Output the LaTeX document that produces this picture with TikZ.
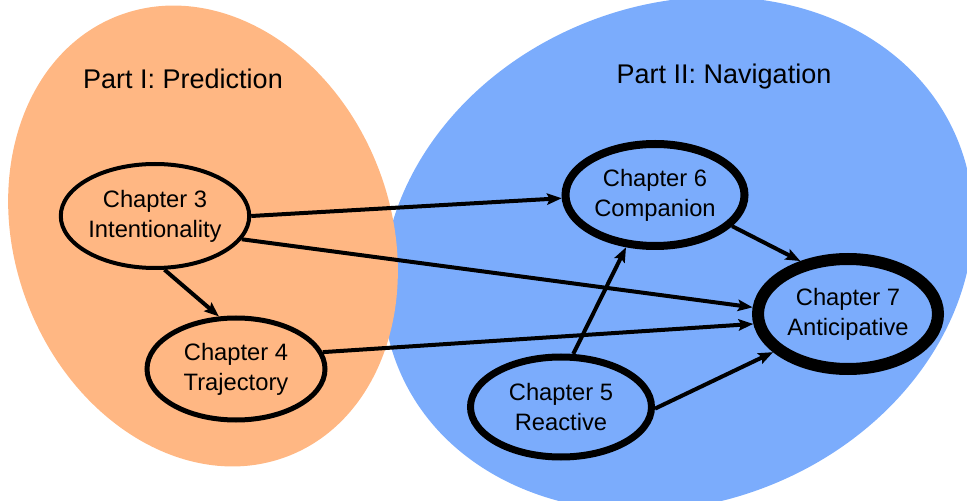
\documentclass[tikz,border=0pt]{standalone}
\usepackage{fontspec}
\setmainfont{Liberation Sans}
\usetikzlibrary{arrows.meta,shapes.geometric}
\definecolor{partone}{RGB}{255,183,131}
\definecolor{parttwo}{RGB}{123,172,252}
\begin{document}
\begin{tikzpicture}[x=0.75pt,y=0.75pt,
  chap/.style={ellipse, draw=black, inner sep=0pt, align=center,
    font=\fontsize{17.8}{22.5}\selectfont},
  parttitle/.style={font=\fontsize{20.25}{24}\selectfont},
  link/.style={line width=3pt, -{Stealth[length=11pt,width=8.5pt,inset=2pt]}}
]
\clip (0,0) rectangle (967,500);
% background regions
\fill[parttwo] (678,246) ellipse[x radius=226.5pt, y radius=186.75pt, rotate=22];
\fill[partone] (203,264) ellipse[x radius=141pt, y radius=177pt, rotate=21];
% titles
\node[parttitle] (p1) at (183,421) {Part I: Prediction};
\node[parttitle] (p2) at (724,423) {Part II: Navigation};
% chapters
\node[chap, line width=3pt, minimum width=135.75pt, minimum height=78pt] (ch3) at (155,284) {Chapter 3\\Intentionality};
\node[chap, line width=3.75pt, minimum width=133.5pt, minimum height=76.5pt] (ch4) at (236,131) {Chapter 4\\Trajectory};
\node[chap, line width=6pt, minimum width=134.25pt, minimum height=76.5pt] (ch6) at (655,305) {Chapter 6\\Companion};
\node[chap, line width=5.25pt, minimum width=135.75pt, minimum height=75pt] (ch5) at (561,93) {Chapter 5\\Reactive};
\node[chap, line width=9pt, minimum width=135pt, minimum height=82.5pt] (ch7) at (848,186) {Chapter 7\\Anticipative};
% connectors
\draw[link] (ch3.0) -- (ch6.182);
\draw[link] (ch3.-15) -- (ch7.176);
\draw[link] (ch3.-80) -- (ch4.108);
\draw[link] (ch4.11) -- (ch7.186);
\draw[link] (ch5.77) -- (ch6.241);
\draw[link] (ch5.-1) -- (ch7.207);
\draw[link] (ch6.-22) -- (ch7.132);
\end{tikzpicture}
\end{document}
